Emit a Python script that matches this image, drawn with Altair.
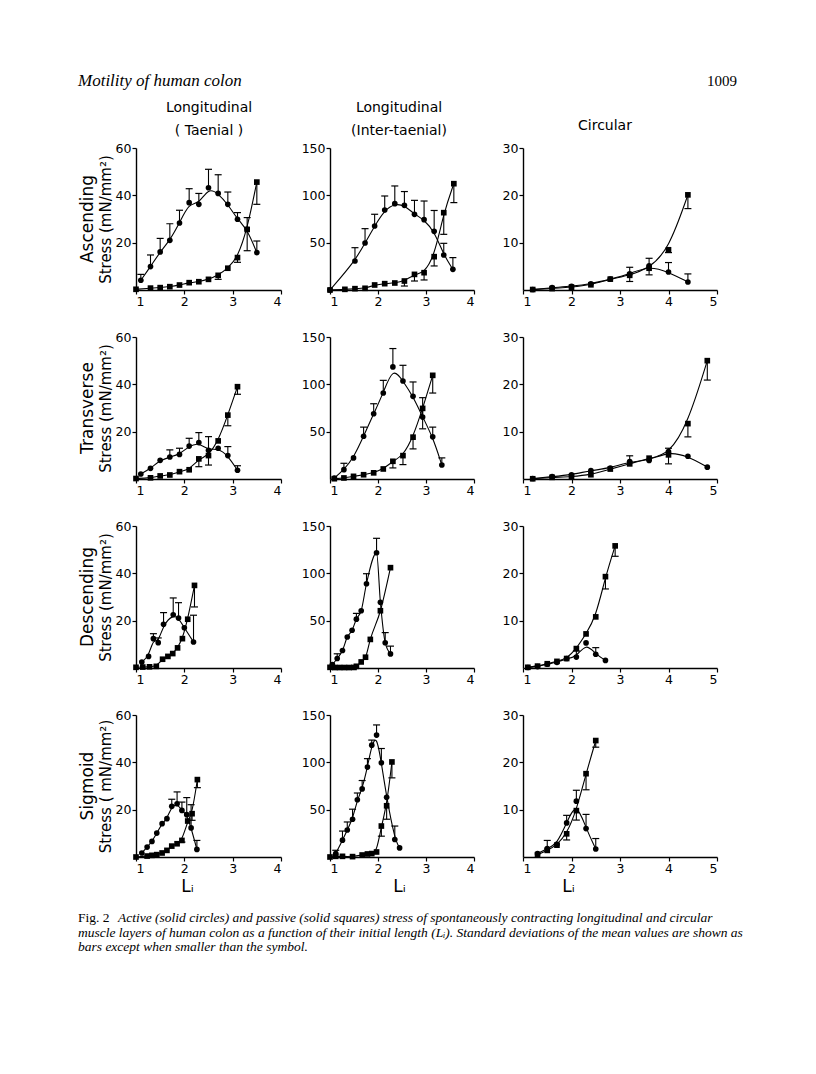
import altair as alt
import pandas as pd

SANS = "DejaVu Sans"
SERIF = "Liberation Serif"

ROWS = ["Ascending", "Transverse", "Descending", "Sigmoid"]
STRESS_TITLES = ["Stress (mN/mm²)", "Stress (mN/mm²)", "Stress (mN/mm²)", "Stress ( mN/mm²)"]
COLS = ["Taenial", "Inter-taenial", "Circular"]
Y_MAX = [60, 150, 30]
Y_TICKS = [[20, 40, 60], [50, 100, 150], [10, 20, 30]]
X_MAX = [4, 4, 5]
X_TICKS = [[1, 2, 3, 4], [1, 2, 3, 4], [1, 2, 3, 4, 5]]
WIDTHS = [145, 144, 194]
HEIGHT = 142
LI_TITLE_X = [51, 69, 45]

# ---------------- Ascending ----------------
asc_tae_act_x = [1.1, 1.3, 1.5, 1.7, 1.9, 2.1, 2.3, 2.5, 2.7, 2.9, 3.1, 3.3, 3.5]
asc_tae_act = [4.1, 9.9, 16.1, 21.0, 28.3, 36.9, 36.2, 43.2, 40.8, 36.2, 29.9, 25.6, 15.8]
asc_tae_act_sd = [2.5, 4.9, 5.7, 7.0, 5.4, 5.9, 4.6, 7.8, 7.9, 5.2, 2.8, 5.0, 4.9]
asc_tae_pas_x = [1.0, 1.3, 1.5, 1.7, 1.9, 2.1, 2.3, 2.5, 2.7, 2.9, 3.1, 3.3, 3.5]
asc_tae_pas = [0.3, 0.8, 1.0, 1.4, 2.1, 3.1, 3.5, 4.5, 6.2, 9.2, 13.7, 25.6, 45.6]
asc_tae_pas_sd = [0, 0, 0, 0, 0, 0, 0, 0, -1.7, 0, -2.0, -9.0, -9.4]

asc_int_act_x = [1.0, 1.52, 1.73, 1.93, 2.14, 2.35, 2.55, 2.76, 2.96, 3.17, 3.37, 3.56]
asc_int_act = [0, 30.6, 49.6, 67.6, 84.5, 91.2, 89.4, 79.9, 74.3, 62.0, 37.0, 21.8]
asc_int_act_sd = [0, 14.1, 15.2, 12.4, 14.8, 18.7, 14.6, 14.8, 19.7, 22.0, 12.3, 12.4]
asc_int_pas_x = [1.0, 1.31, 1.52, 1.73, 1.93, 2.14, 2.35, 2.55, 2.76, 2.96, 3.17, 3.37, 3.58]
asc_int_pas = [0, 0.7, 1.4, 1.8, 5.3, 6.7, 7.4, 9.5, 16.5, 18.3, 35.2, 81.7, 112.3]
asc_int_pas_sd = [0, 0, 0, 0, 0, 0, 0, -5.3, -7.0, -7.7, -9.8, -22.9, -20.0]

asc_cir_act_x = [1.2, 1.6, 2.0, 2.4, 2.8, 3.2, 3.6, 4.0, 4.4]
asc_cir_act = [0.1, 0.5, 0.8, 1.3, 2.3, 3.4, 5.1, 3.8, 1.7]
asc_cir_act_sd = [0, 0, 0, 0, 0, 1.4, 1.6, 2.0, 1.7]
asc_cir_pas_x = [1.2, 1.6, 2.0, 2.4, 2.8, 3.2, 3.6, 4.0, 4.4]
asc_cir_pas = [0.1, 0.3, 0.6, 1.1, 2.3, 3.1, 4.6, 8.5, 20.1]
asc_cir_pas_sd = [0, 0, 0, 0, 0, -1.3, -1.4, -0.6, -2.9]

# ---------------- Transverse ----------------
tra_tae_act_x = [1.1, 1.3, 1.5, 1.7, 1.9, 2.1, 2.3, 2.5, 2.7, 2.9, 3.1]
tra_tae_act = [2.1, 4.5, 7.9, 9.3, 10.4, 13.9, 15.4, 12.1, 13.0, 9.9, 3.7]
tra_tae_act_sd = [0, 0, 0, 3.0, 2.6, 3.3, 4.2, 5.8, 0, 3.8, 1.9]
tra_tae_pas_x = [1.0, 1.3, 1.5, 1.7, 1.9, 2.1, 2.3, 2.5, 2.7, 2.9, 3.1]
tra_tae_pas = [0.2, 0.5, 1.3, 1.7, 3.1, 3.9, 8.5, 9.9, 16.1, 27.0, 39.0]
tra_tae_pas_sd = [0, 0, 0, 0, 0, 0, -3.3, -4.0, 0, -4.5, -3.2]

tra_int_act_x = [1.09, 1.29, 1.49, 1.70, 1.91, 2.11, 2.31, 2.52, 2.73, 2.93, 3.14, 3.33]
tra_int_act = [1.1, 9.9, 22.3, 45.2, 68.9, 90.8, 118.4, 103.5, 87.3, 65.4, 44.5, 14.8]
tra_int_act_sd = [0, 6.7, 0, 9.6, 10.6, 13.4, 19.4, 16.6, 15.2, 20.5, 10.3, 7.5]
tra_int_pas_x = [1.09, 1.29, 1.49, 1.70, 1.91, 2.11, 2.31, 2.52, 2.73, 2.93, 3.14]
tra_int_pas = [0.3, 1.1, 2.8, 4.5, 6.5, 10.6, 18.7, 24.7, 44.2, 74.6, 109.5]
tra_int_pas_sd = [0, 0, 0, 0, 0, 0, -7.0, -9.5, -12.4, -21.6, -18.7]

tra_cir_act_x = [1.2, 1.6, 2.0, 2.4, 2.8, 3.2, 3.6, 4.0, 4.4, 4.8]
tra_cir_act = [0.1, 0.5, 0.9, 1.8, 2.3, 3.7, 3.9, 5.8, 4.8, 2.5]
tra_cir_act_sd = [0, 0, 0, 0, 0, 1.2, 0, 0.7, 0, 0]
tra_cir_pas_x = [1.2, 1.6, 2.0, 2.4, 2.8, 3.2, 3.6, 4.0, 4.4, 4.8]
tra_cir_pas = [0.05, 0.35, 0.5, 0.9, 2.1, 3.2, 4.4, 5.1, 11.7, 25.0]
tra_cir_pas_sd = [0, 0, 0, 0, 0, 0, 0, -1.9, -2.8, -4.1]

# ---------------- Descending ----------------
des_tae_act_x = [1.12, 1.26, 1.36, 1.46, 1.57, 1.77, 1.88, 2.0, 2.19]
des_tae_act = [2.5, 4.9, 12.4, 10.7, 18.5, 22.5, 21.1, 17.0, 11.0]
des_tae_act_sd = [0, 0, 2.1, 2.0, 4.9, 7.1, 6.5, 0, 11.3]
des_tae_pas_x = [1.0, 1.14, 1.28, 1.42, 1.55, 1.66, 1.76, 1.86, 1.96, 2.07, 2.21]
des_tae_pas = [0.3, 0.4, 0.5, 0.7, 3.7, 4.9, 6.1, 8.5, 12.4, 20.6, 34.9]
des_tae_pas_sd = [0, 0, 0, 0, 0, 0, 0, 0, 0, 0, -9.1]

des_int_act_x = [1.05, 1.15, 1.26, 1.36, 1.46, 1.55, 1.65, 1.76, 1.97, 2.05, 2.15, 2.26]
des_int_act = [3.6, 10.0, 18.5, 32.7, 39.9, 51.6, 60.5, 89.0, 121.7, 69.4, 26.7, 14.9]
des_int_act_sd = [0, 5.0, 0, 0, 0, 6.1, 0, 10.6, 15.3, 0, 10.7, 8.2]
des_int_pas_x = [1.0, 1.1, 1.2, 1.3, 1.4, 1.5, 1.55, 1.65, 1.74, 1.84, 2.05, 2.26]
des_int_pas = [0.7, 0.5, 0.5, 0.5, 0.5, 0.6, 1.8, 6.4, 11.4, 30.2, 60.5, 106.0]
des_int_pas_sd = [0, 0, 0, 0, 0, 0, 0, 0, 0, 0, 0, 0]

des_cir_act_x = [1.1, 1.3, 1.5, 1.7, 1.9, 2.1, 2.3, 2.5, 2.7]
des_cir_act = [0.1, 0.3, 0.8, 1.2, 2.0, 2.3, 5.3, 2.9, 1.6]
des_cir_act_sd = [0, 0, 0, 0, 0, 1.3, 0, 1.4, 0]
des_cir_pas_x = [1.1, 1.3, 1.5, 1.7, 1.9, 2.1, 2.3, 2.5, 2.7, 2.9]
des_cir_pas = [0.15, 0.4, 0.9, 1.4, 2.0, 4.1, 7.2, 10.8, 19.3, 25.8]
des_cir_pas_sd = [0, 0, 0, 0, 0, 0, 0, 0, -2.6, -2.2]

# ---------------- Sigmoid ----------------
sig_tae_act_x = [1.12, 1.23, 1.33, 1.43, 1.54, 1.64, 1.74, 1.85, 1.95, 2.05, 2.14, 2.26]
sig_tae_act = [1.7, 4.2, 6.6, 10.1, 14.1, 16.2, 21.4, 22.5, 19.7, 17.9, 12.3, 3.2]
sig_tae_act_sd = [0, 0, 0, 0, 0, 0, 3.0, 5.0, 3.5, 7.2, 9.8, 3.8]
sig_tae_pas_x = [1.0, 1.23, 1.33, 1.43, 1.54, 1.64, 1.74, 1.85, 1.95, 2.07, 2.16, 2.27]
sig_tae_pas = [0, 0.4, 0.7, 1.0, 1.7, 2.8, 4.6, 5.6, 7.0, 15.2, 18.3, 32.7]
sig_tae_pas_sd = [0, 0, 0, 0, 0, 0, 0, 0, -0.7, 0, -2.8, -3.4]

sig_int_act_x = [1.12, 1.26, 1.36, 1.47, 1.57, 1.67, 1.78, 1.87, 1.97, 2.07, 2.18, 2.35, 2.45]
sig_int_act = [3.6, 17.8, 28.5, 39.9, 60.5, 71.9, 95.0, 118.1, 128.8, 99.6, 63.0, 18.5, 9.6]
sig_int_act_sd = [3.5, 9.6, 8.5, 10.6, 7.1, 8.9, 8.9, 5.4, 10.7, 15.0, 0, 14.2, 0]
sig_int_pas_x = [1.0, 1.12, 1.26, 1.47, 1.67, 1.78, 1.87, 1.97, 2.07, 2.18, 2.29]
sig_int_pas = [0, 0.7, 0.7, 0.4, 2.1, 3.2, 3.6, 5.3, 32.7, 54.1, 100.4]
sig_int_pas_sd = [0, 0, 0, 0, 0, 0, 0, 0, -10.7, -14.2, -16.8]

sig_cir_act_x = [1.3, 1.5, 1.7, 1.9, 2.1, 2.3, 2.5]
sig_cir_act = [0.7, 1.8, 2.7, 7.2, 11.8, 6.0, 1.7]
sig_cir_act_sd = [0, 1.7, 0, 1.6, 2.3, 3.0, 2.2]
sig_cir_pas_x = [1.3, 1.5, 1.7, 1.9, 2.1, 2.3, 2.5]
sig_cir_pas = [0.5, 1.4, 2.5, 4.9, 9.8, 17.6, 24.6]
sig_cir_pas_sd = [0, 0, 0, -1.3, -2.0, -3.4, -1.4]

PANELS = {
    (0, 0): (asc_tae_act_x, asc_tae_act, asc_tae_act_sd, asc_tae_pas_x, asc_tae_pas, asc_tae_pas_sd),
    (0, 1): (asc_int_act_x, asc_int_act, asc_int_act_sd, asc_int_pas_x, asc_int_pas, asc_int_pas_sd),
    (0, 2): (asc_cir_act_x, asc_cir_act, asc_cir_act_sd, asc_cir_pas_x, asc_cir_pas, asc_cir_pas_sd),
    (1, 0): (tra_tae_act_x, tra_tae_act, tra_tae_act_sd, tra_tae_pas_x, tra_tae_pas, tra_tae_pas_sd),
    (1, 1): (tra_int_act_x, tra_int_act, tra_int_act_sd, tra_int_pas_x, tra_int_pas, tra_int_pas_sd),
    (1, 2): (tra_cir_act_x, tra_cir_act, tra_cir_act_sd, tra_cir_pas_x, tra_cir_pas, tra_cir_pas_sd),
    (2, 0): (des_tae_act_x, des_tae_act, des_tae_act_sd, des_tae_pas_x, des_tae_pas, des_tae_pas_sd),
    (2, 1): (des_int_act_x, des_int_act, des_int_act_sd, des_int_pas_x, des_int_pas, des_int_pas_sd),
    (2, 2): (des_cir_act_x, des_cir_act, des_cir_act_sd, des_cir_pas_x, des_cir_pas, des_cir_pas_sd),
    (3, 0): (sig_tae_act_x, sig_tae_act, sig_tae_act_sd, sig_tae_pas_x, sig_tae_pas, sig_tae_pas_sd),
    (3, 1): (sig_int_act_x, sig_int_act, sig_int_act_sd, sig_int_pas_x, sig_int_pas, sig_int_pas_sd),
    (3, 2): (sig_cir_act_x, sig_cir_act, sig_cir_act_sd, sig_cir_pas_x, sig_cir_pas, sig_cir_pas_sd),
}
# curve style per panel (the sharp-peaked descending inter-taenial curve passes its points)
INTERP = {(2, 1): "monotone"}

# ---------------- header, column titles, caption texts ----------------
HEAD_LEFT = "Motility of human colon"
HEAD_RIGHT = "1009"
COL_TITLES = [["Longitudinal", "( Taenial )"], ["Longitudinal", "(Inter-taenial)"], ["Circular"]]
COL_TITLE_X = [73, 69, 82]
CAP_FIG = "Fig. 2"
CAP_LINES = [
    "Active (solid circles) and passive (solid squares) stress of spontaneously contracting longitudinal and circular",
    "muscle layers of human colon as a function of their initial length (Lᵢ). Standard deviations of the mean values are shown as",
    "bars except when smaller than the symbol.",
]

one = pd.DataFrame({"k": [0]})
tb = alt.Chart(one)


def text_layer(t, x, y, **kw):
    props = dict(text=t, align="left", baseline="middle", color="black")
    props.update(kw)
    return tb.mark_text(**props).encode(x=alt.value(x), y=alt.value(y))


def series_df(xs, ys, sds, name):
    return pd.DataFrame({
        "L": xs,
        "S": ys,
        "E": [y + e for y, e in zip(ys, sds)],
        "err": [e != 0 for e in sds],
        "series": name,
    })


def panel(r, c):
    ax_, ay, ae, px, py, pe = PANELS[(r, c)]
    df = pd.concat([series_df(ax_, ay, ae, "active"), series_df(px, py, pe, "passive")],
                   ignore_index=True)
    xscale = alt.Scale(domain=[1, X_MAX[c]], nice=False, zero=False)
    yscale = alt.Scale(domain=[0, Y_MAX[c]], nice=False)
    xaxis_kw = dict(values=X_TICKS[c], format="d", grid=False, tickSize=4,
                    labelFontSize=12.5, labelPadding=1, labelFont=SANS,
                    domainColor="black", domainWidth=1.4, tickColor="black",
                    tickWidth=1.2, labelColor="black")
    if r == 3:
        xaxis = alt.Axis(title="Lᵢ", titleX=LI_TITLE_X[c], titleFontSize=17,
                         titleFont=SANS, titleFontWeight="normal", titleColor="black",
                         titlePadding=4, **xaxis_kw)
    else:
        xaxis = alt.Axis(title=None, **xaxis_kw)
    yaxis_kw = dict(values=Y_TICKS[c], format="d", grid=False, tickSize=4,
                    labelFontSize=12.5, labelPadding=1, labelFont=SANS,
                    domainColor="black", domainWidth=1.4, tickColor="black",
                    tickWidth=1.2, labelColor="black", minExtent=20, maxExtent=20)
    if c == 0:
        yaxis = alt.Axis(title=STRESS_TITLES[r], titleFontSize=15,
                         titleFont=SANS, titleFontWeight="normal", titleColor="black",
                         titlePadding=3, **yaxis_kw)
    else:
        yaxis = alt.Axis(title=None, **yaxis_kw)

    x = alt.X("L:Q", scale=xscale, axis=xaxis)
    y = alt.Y("S:Q", scale=yscale, axis=yaxis)
    base = alt.Chart(df)
    lines = base.mark_line(interpolate=INTERP.get((r, c), "basis"), color="black",
                           strokeWidth=1.1).encode(x=x, y=y, detail="series:N")
    pts = base.mark_point(filled=True, color="black", size=32, opacity=1).encode(
        x=x, y=y,
        shape=alt.Shape("series:N", scale=alt.Scale(domain=["active", "passive"],
                                                    range=["circle", "square"]), legend=None))
    bars = base.transform_filter("datum.err").mark_rule(color="black", strokeWidth=1.1).encode(
        x=x, y=y, y2="E:Q")
    caps = base.transform_filter("datum.err").mark_tick(
        orient="horizontal", color="black", thickness=1.2, size=7, opacity=1).encode(
        x=x, y=alt.Y("E:Q", scale=yscale, axis=yaxis))
    layers = [lines, bars, caps, pts]

    # row label, left of the stress title
    if c == 0:
        layers.append(text_layer(ROWS[r], -48, HEIGHT / 2, font=SANS, fontSize=17,
                                 align="center", angle=270))
    # column titles above the top row
    if r == 0:
        tl = COL_TITLES[c]
        ys = [-40, -17] if len(tl) == 2 else [-22]
        for t, yy in zip(tl, ys):
            layers.append(text_layer(t, COL_TITLE_X[c], yy, font=SANS, fontSize=14,
                                     align="center"))
    # running head
    if r == 0 and c == 0:
        layers.append(text_layer(HEAD_LEFT, -58, -67, font=SERIF, fontStyle="italic",
                                 fontSize=17))
        layers.append(text_layer(HEAD_RIGHT, 601, -67, font=SERIF, fontSize=15,
                                 align="right"))
    # caption below the bottom row
    if r == 3 and c == 0:
        layers.append(text_layer(CAP_FIG, -58, 203, font=SERIF, fontSize=13.5))
        for i, t in enumerate(CAP_LINES):
            layers.append(text_layer(t, -18 if i == 0 else -58, 203 + 14.5 * i, font=SERIF,
                                     fontStyle="italic", fontSize=13.5))
    return alt.layer(*layers).properties(width=WIDTHS[c], height=HEIGHT)


panels = [panel(r, c) for r in range(4) for c in range(3)]
chart = alt.concat(*panels, columns=3, spacing={"row": 47, "column": 49},
                   bounds="flush", align="each").properties(
    padding={"left": 70, "top": 64, "right": 5, "bottom": 5}
).configure_view(stroke=None)

chart.save("out.html", embed_options={"renderer": "svg", "actions": False})
